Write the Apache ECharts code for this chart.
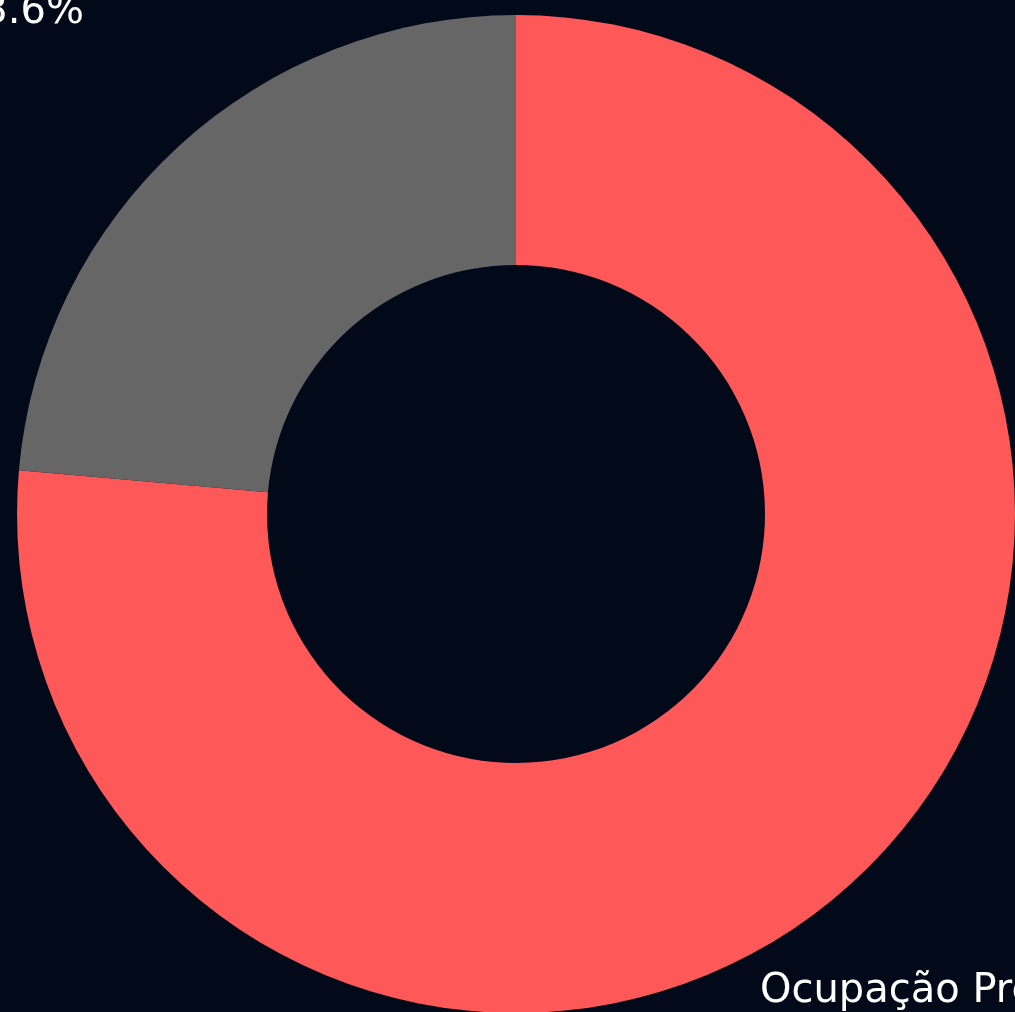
<!DOCTYPE html>
<html>
<head>
<meta charset="utf-8">
<script src="https://cdn.jsdelivr.net/npm/echarts@6/dist/echarts.min.js"></script>
<style>
  html, body { margin: 0; padding: 0; background: #020a1a; }
  #chart { width: 1015px; height: 1012px; }
</style>
</head>
<body>
<div id="chart"></div>
<script>
const categories = ['Ocupação Prevista', 'Disponível']
const values = [76.4, 23.6]
const colors = ['#ff5858', '#666666']

const chart = echarts.init(document.getElementById('chart'))
const option = {
  backgroundColor: '#020a1a',
  series: [{
    type: 'pie',
    center: [516, 514],
    radius: [249, 499],
    startAngle: 90,
    clockwise: true,
    silent: true,
    label: {
      show: true,
      position: 'outside',
      color: '#ffffff',
      fontSize: 40,
      fontFamily: '"DejaVu Sans", sans-serif',
      overflow: 'none',
      formatter: '{b}: {d}%'
    },
    labelLine: { show: false },
    // labels sit at the outer corners, partly off the canvas like the original
    labelLayout: function (params) {
      if (params.dataIndex === 1) {
        return { x: 84, y: 13, align: 'right', verticalAlign: 'middle' }
      }
      return { x: 760, y: 992, align: 'left', verticalAlign: 'middle' }
    },
    data: categories.map((name, i) => ({
      name: name,
      value: values[i],
      itemStyle: { color: colors[i] }
    }))
  }]
}
chart.setOption(option)
</script>
</body>
</html>
